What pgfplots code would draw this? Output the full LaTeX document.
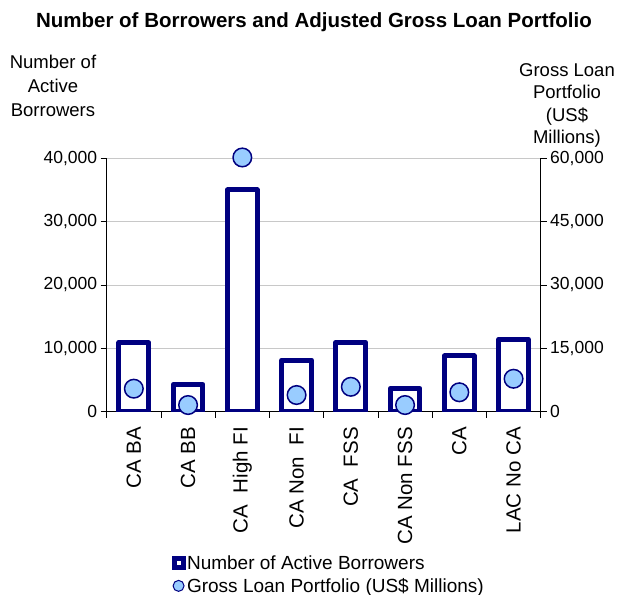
\documentclass[border=0pt]{standalone}
\usepackage{fontspec}
\setmainfont{Liberation Sans}
\usepackage{pgfplots}
\pgfplotsset{compat=1.18}
\definecolor{navyb}{RGB}{0,0,128}
\definecolor{lblue}{RGB}{153,204,255}
\definecolor{gridg}{RGB}{200,200,200}
\begin{document}
\begin{tikzpicture}
\begin{axis}[
  at={(0pt,0pt)}, anchor=south west,
  scale only axis, width=434pt, height=253.4pt,
  xmin=0.5, xmax=8.5, ymin=0, ymax=40000,
  axis x line*=bottom, axis y line*=left,
  axis line style={black, line width=0.8pt},
  xtick={1,...,8},
  xticklabels={CA BA, CA BB, CA\ \ High FI, CA Non\ \ FI, CA\ \ FSS, CA Non FSS, CA, LAC No CA},
  xticklabel style={rotate=90, anchor=east, xshift=-6pt, font=\fontsize{20.5}{24}\selectfont},
  major x tick style={draw=none},
  minor xtick={0.5,1.5,...,8.5},
  minor tick length=6pt,
  minor x tick style={draw=black, line width=0.8pt},
  ytick={0,10000,20000,30000,40000},
  ymajorgrids, grid style={gridg, line width=0.8pt},
  tick align=outside, major tick length=6pt,
  tick style={black, line width=0.8pt},
  scaled y ticks=false,
  /pgf/number format/1000 sep={,},
  /pgf/number format/assume math mode=true,
  yticklabel style={font=\fontsize{17.5}{20}\selectfont},
  ybar, bar width=29.7pt,
]
\addplot[draw=navyb, fill=white, line width=5pt, line join=round] coordinates {
  (1,10900) (2,4300) (3,35000) (4,8150) (5,10950) (6,3700) (7,8800) (8,11450)
};
\end{axis}
\begin{axis}[
  at={(0pt,0pt)}, anchor=south west,
  scale only axis, width=434pt, height=253.4pt,
  xmin=0.5, xmax=8.5, ymin=0, ymax=60000,
  axis x line=none, axis y line*=right,
  axis line style={black, line width=0.8pt},
  ytick={0,15000,30000,45000,60000},
  tick align=outside, major tick length=6pt,
  tick style={black, line width=0.8pt},
  scaled y ticks=false,
  /pgf/number format/1000 sep={,},
  /pgf/number format/assume math mode=true,
  yticklabel style={font=\fontsize{17.5}{20}\selectfont},
  clip=false,
  legend cell align=left,
  legend style={draw=none, fill=none, inner sep=0pt,
    at={(0.149,-0.562)}, anchor=north west,
    font=\fontsize{19}{22}\selectfont,
    nodes={inner sep=1.5pt}, row sep=4pt},
]
\addlegendimage{legend image code/.code={\draw[navyb, line width=5pt, fill=white] (0pt,-4.5pt) rectangle (9pt,4.5pt);}}
\addlegendentry{Number of Active Borrowers}
\addplot[only marks, mark=*, mark size=9.3pt, mark options={fill=lblue, draw=navyb, line width=1.5pt},
  legend image code/.code={\draw[fill=lblue, draw=navyb, line width=1pt] (4.5pt,0pt) circle (5.5pt);}] coordinates {
  (1,5450) (2,1580) (3,60200) (4,3950) (5,5900) (6,1580) (7,4600) (8,7800)
};
\addlegendentry{Gross Loan Portfolio (US\$ Millions)}
\end{axis}
\node[font=\bfseries\fontsize{20.5}{24}\selectfont] at (207.3pt,389.7pt) {Number of Borrowers and Adjusted Gross Loan Portfolio};
\node[align=center, font=\fontsize{18.5}{24}\selectfont] at (-53.7pt,325.7pt) {Number of\\Active\\Borrowers};
\node[align=center, font=\fontsize{18.5}{22.5}\selectfont] at (460.3pt,306.4pt) {Gross Loan\\Portfolio\\(US\$\\Millions)};
\pgfresetboundingbox
\path (-106.7pt,-183.3pt) rectangle (515.3pt,411.7pt);
\end{tikzpicture}
\end{document}
